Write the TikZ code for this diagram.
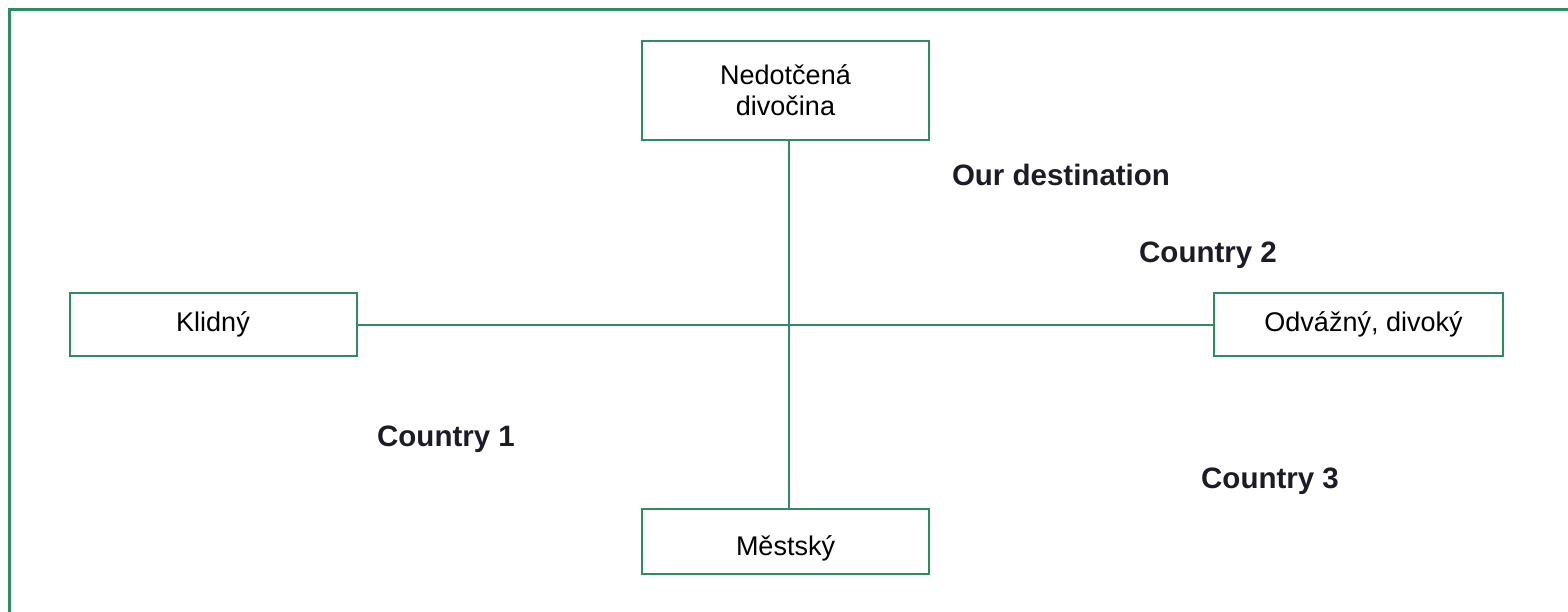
\documentclass[tikz,border=0pt]{standalone}
\usepackage{fontspec}
\setmainfont{Liberation Sans}
\definecolor{axisgreen}{RGB}{46,139,98}
\definecolor{labelink}{RGB}{28,28,40}
\tikzset{
  pole/.style={draw=axisgreen, line width=2pt, minimum width=287pt, inner sep=0pt,
    font=\fontsize{27}{31}\selectfont, align=center},
  axis/.style={draw=axisgreen, line width=2pt},
  tag/.style={font=\fontsize{29.5}{34}\selectfont\bfseries, text=labelink, anchor=base, inner sep=0pt}
}
\begin{document}
\begin{tikzpicture}[x=1pt,y=-1pt]
  \useasboundingbox (0,0) rectangle (1568,612);
  % frame
  \draw[axisgreen, line width=3pt] (9,612) -- (9,10) -- (1568,10);
  % the four poles of the map
  \node[pole, minimum height=99pt] (wild) at (785.5,90.5) {Nedotčená\\divočina};
  \node[pole, minimum height=63pt] (calm) at (213,324.5) {Klidný};
  \node[pole, minimum height=63pt, minimum width=289pt] (bold) at (1358.5,324.5) {\hspace*{10pt}Odvážný, divoký};
  \node[pole, minimum height=65pt, text height=34pt, text depth=6pt] (urban) at (785.5,541.5) {Městský};
  % axes
  \draw[axis] (calm.east) -- (bold.west);
  \draw[axis] (wild.south -| 789,0) -- (urban.north -| 789,0);
  % positions
  \node[tag] (dest) at (1061,186) {Our destination};
  \node[tag] (c2) at (1208,263) {Country 2};
  \node[tag] (c1) at (446,446) {Country 1};
  \node[tag] (c3) at (1270,488) {Country 3};
\end{tikzpicture}
\end{document}
